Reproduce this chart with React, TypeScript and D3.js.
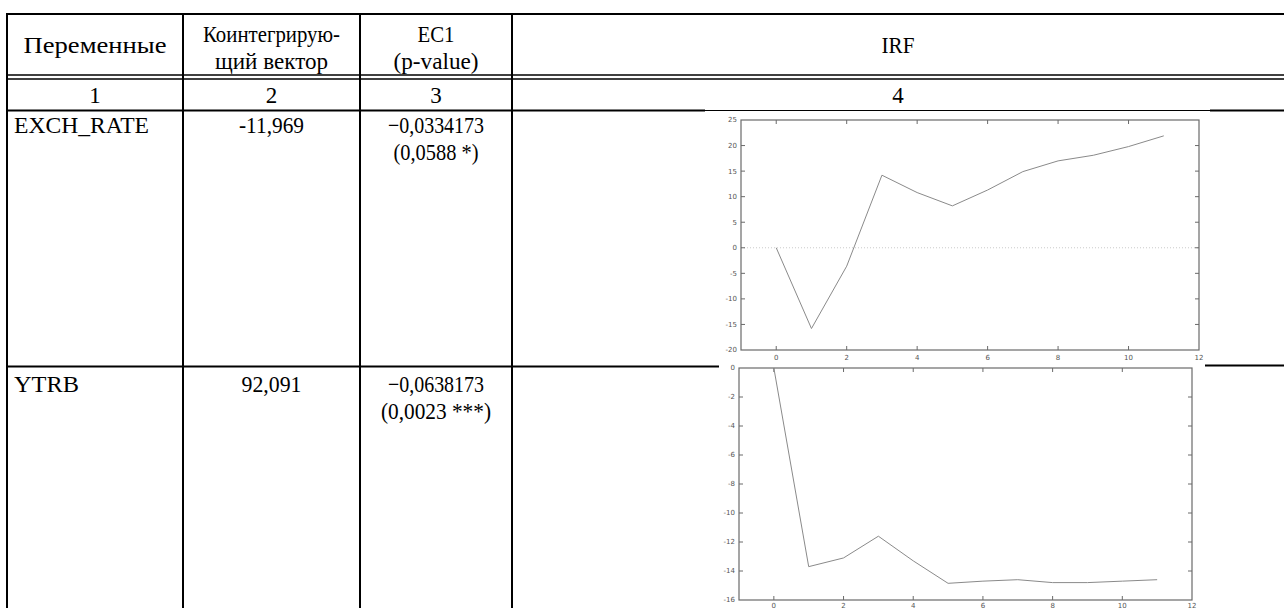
import React from "react";
import * as d3 from "d3";

// ---------- data ----------
const headerCols = [["Переменные"], ["Коинтегрирую-", "щий вектор"], ["EC1", "(p-value)"], ["IRF"]];
const colNumbers = ["1", "2", "3", "4"];
const variables = ["EXCH_RATE", "YTRB"];
const cointVector = ["-11,969", "92,091"];
const ec1Coef = ["\u22120,0334173", "\u22120,0638173"];
const ec1P = ["(0,0588 *)", "(0,0023 ***)"];

const horizons = [0, 1, 2, 3, 4, 5, 6, 7, 8, 9, 10, 11];
const irfExch = [0, -15.8, -3.6, 14.2, 10.8, 8.2, 11.3, 14.9, 17.0, 18.1, 19.8, 21.9];
const irfYtrb = [0, -13.7, -13.1, -11.6, -13.3, -14.85, -14.7, -14.6, -14.8, -14.8, -14.7, -14.6];

const xTicks = [0, 2, 4, 6, 8, 10, 12];
const yTicksExch = [-20, -15, -10, -5, 0, 5, 10, 15, 20, 25];
const yTicksYtrb = [-16, -14, -12, -10, -8, -6, -4, -2, 0];

// ---------- layout / style ----------
const W = 1284;
const H = 608;
const colX = [7, 183, 360, 512, 1284];
const FONT = "'Liberation Serif', 'Times New Roman', serif";
const TICKFONT = "'DejaVu Sans', sans-serif";
const FS = 23;
// rendered widths of the table texts (style only)
const textWidth: Record<string, number> = {
  "Переменные": 143,
  "Коинтегрирую-": 137,
  "щий вектор": 113,
  "EC1": 37,
  "(p-value)": 85,
  "IRF": 33,
  "EXCH_RATE": 135,
  "-11,969": 65,
  "\u22120,0334173": 96,
  "(0,0588 *)": 85,
  "YTRB": 65,
  "92,091": 60,
  "\u22120,0638173": 96,
  "(0,0023 ***)": 110,
};

function T({ x, y, anchor = "middle", children }: { x: number; y: number; anchor?: string; children: string }) {
  const w = textWidth[children];
  return (
    <text
      x={x}
      y={y}
      textAnchor={anchor}
      fontFamily={FONT}
      fontSize={FS}
      fill="#000"
      {...(w ? { textLength: w, lengthAdjust: "spacingAndGlyphs" } : {})}
    >
      {children}
    </text>
  );
}

type PanelProps = {
  values: number[];
  yDomain: [number, number];
  yTicks: number[];
  left: number;
  right: number;
  top: number;
  bottom: number;
  zeroLine: boolean;
  xLabelY: number;
};

function Panel({ values, yDomain, yTicks, left, right, top, bottom, zeroLine, xLabelY }: PanelProps) {
  const x = d3.scaleLinear().domain([-1, 12]).range([left, right]);
  const y = d3.scaleLinear().domain(yDomain).range([bottom, top]);
  const line = d3
    .line<number>()
    .x((_, i) => x(horizons[i]))
    .y((d) => y(d));
  const tl = 4;
  const axisCol = "#6a6a6a";
  return (
    <g>
      {zeroLine && (
        <line x1={left} x2={right} y1={y(0)} y2={y(0)} stroke="#bdbdbd" strokeWidth={0.8} strokeDasharray="1,2" />
      )}
      {yTicks.map((t) => (
        <g key={"y" + t}>
          {t !== yDomain[0] && t !== yDomain[1] && (
            <>
              <line x1={left} x2={left + tl} y1={y(t)} y2={y(t)} stroke={axisCol} strokeWidth={1} />
              <line x1={right} x2={right - tl} y1={y(t)} y2={y(t)} stroke={axisCol} strokeWidth={1} />
            </>
          )}
          <text x={left - 4} y={y(t)} dy="0.35em" textAnchor="end" fontFamily={TICKFONT} fontSize={7} fill="#555">
            {t}
          </text>
        </g>
      ))}
      {xTicks.map((t) => (
        <g key={"x" + t}>
          {t !== 12 && (
            <>
              <line x1={x(t)} x2={x(t)} y1={bottom} y2={bottom - tl} stroke={axisCol} strokeWidth={1} />
              <line x1={x(t)} x2={x(t)} y1={top} y2={top + tl} stroke={axisCol} strokeWidth={1} />
            </>
          )}
          <text x={x(t)} y={xLabelY} dy="0.35em" textAnchor="middle" fontFamily={TICKFONT} fontSize={7} fill="#555">
            {t}
          </text>
        </g>
      ))}
      <rect x={left} y={top} width={right - left} height={bottom - top} fill="none" stroke={axisCol} strokeWidth={1.2} />
      <path d={line(values) || ""} fill="none" stroke="#8a8a8a" strokeWidth={1} />
    </g>
  );
}

export default function App() {
  const centers = colX.slice(0, 4).map((v, i) => (v + colX[i + 1]) / 2);
  return (
    <div style={{ position: "absolute", left: 0, top: 0, width: W, height: H, background: "#fff" }}>
      <svg width={W} height={H} style={{ display: "block" }}>
        <rect x={0} y={0} width={W} height={H} fill="#fff" />
        {/* horizontal rules */}
        <line x1={6} x2={W} y1={14} y2={14} stroke="#000" strokeWidth={2} />
        <line x1={6} x2={W} y1={75} y2={75} stroke="#000" strokeWidth={1.6} />
        <line x1={6} x2={W} y1={79} y2={79} stroke="#000" strokeWidth={1.6} />
        <line x1={6} x2={705} y1={110.5} y2={110.5} stroke="#000" strokeWidth={2} />
        <line x1={705} x2={1210} y1={110.5} y2={110.5} stroke="#000" strokeWidth={1} />
        <line x1={1210} x2={W} y1={110.5} y2={110.5} stroke="#000" strokeWidth={2} />
        <line x1={6} x2={719} y1={366.5} y2={366.5} stroke="#000" strokeWidth={2} />
        <line x1={1205} x2={W} y1={365.5} y2={365.5} stroke="#000" strokeWidth={2} />
        {/* vertical rules */}
        {colX.slice(0, 4).map((cx) => (
          <line key={cx} x1={cx} x2={cx} y1={13} y2={H} stroke="#000" strokeWidth={2} />
        ))}

        {/* header */}
        {headerCols.map((lines, i) =>
          lines.map((l, j) => (
            <T key={"h" + i + j} x={centers[i]} y={lines.length === 1 ? 53 : 42 + j * 27}>
              {l}
            </T>
          ))
        )}
        {colNumbers.map((n, i) => (
          <T key={"n" + i} x={centers[i]} y={103}>
            {n}
          </T>
        ))}

        {/* data rows */}
        {variables.map((v, r) => {
          const base = r === 0 ? 133 : 392;
          return (
            <g key={v}>
              <T x={14} y={base} anchor="start">{v}</T>
              <T x={centers[1]} y={base}>{cointVector[r]}</T>
              <T x={centers[2]} y={base}>{ec1Coef[r]}</T>
              <T x={centers[2]} y={base + 27}>{ec1P[r]}</T>
            </g>
          );
        })}

        <Panel
          values={irfExch}
          yDomain={[-20, 25]}
          yTicks={yTicksExch}
          left={741}
          right={1199}
          top={120}
          bottom={350}
          zeroLine={true}
          xLabelY={358}
        />
        <Panel
          values={irfYtrb}
          yDomain={[-16, 0]}
          yTicks={yTicksYtrb}
          left={739}
          right={1192}
          top={368}
          bottom={600}
          zeroLine={false}
          xLabelY={606}
        />
      </svg>
    </div>
  );
}
